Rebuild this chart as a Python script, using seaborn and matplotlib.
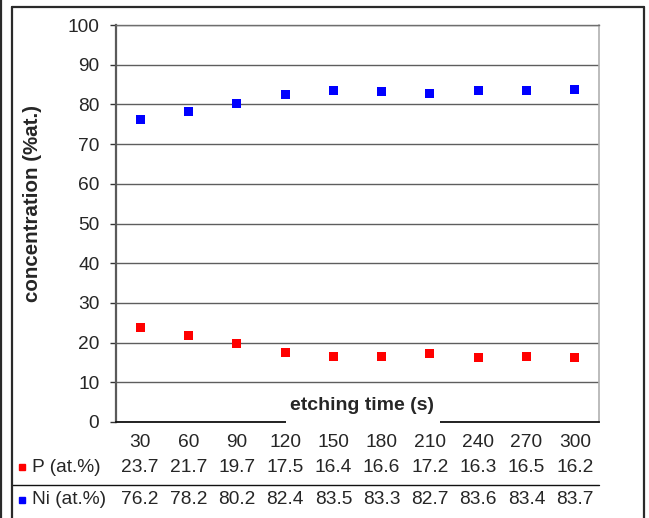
import matplotlib
matplotlib.use("Agg")
import matplotlib.pyplot as plt
from matplotlib.lines import Line2D
from matplotlib.patches import Rectangle
from matplotlib.transforms import blended_transform_factory
import pandas as pd
import seaborn as sns

# etching time categories and measured compositions
times = ["30", "60", "90", "120", "150", "180", "210", "240", "270", "300"]
p_at = [23.7, 21.7, 19.7, 17.5, 16.4, 16.6, 17.2, 16.3, 16.5, 16.2]
ni_at = [76.2, 78.2, 80.2, 82.4, 83.5, 83.3, 82.7, 83.6, 83.4, 83.7]
series_labels = ["P (at.%)", "Ni (at.%)"]
series_colors = ["#ff0000", "#0000ff"]

sns.set_style("white")
plt.rcParams["font.family"] = ["Liberation Sans", "DejaVu Sans"]

W, H = 649, 518
fig = plt.figure(figsize=(W / 100, H / 100), dpi=100)


def fx(x):
    return x / W


def fy(y):
    return 1 - y / H


# plot area in pixel terms
L, R, T, B = 116, 599, 25, 422
ax = fig.add_axes([fx(L), fy(B), fx(R) - fx(L), fy(T) - fy(B)])

df = pd.DataFrame({
    "time": times * 2,
    "value": p_at + ni_at,
    "element": [series_labels[0]] * len(times) + [series_labels[1]] * len(times),
})

sns.stripplot(data=df, x="time", y="value", hue="element", order=times,
              hue_order=series_labels, palette=series_colors, jitter=False,
              dodge=False, marker="s", size=6.5, linewidth=0, legend=False,
              ax=ax, zorder=3)

ax.set_xlim(-0.5, len(times) - 0.5)
ax.set_ylim(0, 100)
ax.set_yticks(range(0, 101, 10))
ax.yaxis.grid(True, color="#5e5e5e", linewidth=1.0)
ax.xaxis.grid(False)
ax.set_axisbelow(True)

ax.spines["left"].set_color("#5a5a5a")
ax.spines["left"].set_linewidth(1.6)
ax.spines["bottom"].set_color("#111111")
ax.spines["bottom"].set_linewidth(1.3)
ax.spines["top"].set_color("#6e6e6e")
ax.spines["top"].set_linewidth(1.0)
ax.spines["right"].set_color("#b0b0b0")
ax.spines["right"].set_linewidth(1.2)

ax.tick_params(axis="y", length=4.5, width=1.0, color="#333333", pad=7.5,
               labelsize=13.8, direction="out", left=True)
ax.tick_params(axis="x", length=0, pad=8.5, labelsize=13.8)
ax.set_xlabel("")
ax.set_ylabel("")

# axis titles
ax.add_patch(Rectangle((fx(286), fy(424)), fx(440) - fx(286), fy(393) - fy(424),
                       transform=fig.transFigure, facecolor="white",
                       edgecolor="none", zorder=4, clip_on=False))
fig.text(fx(362), fy(405), "etching time (s)", ha="center", va="center",
         fontsize=14, fontweight="bold", zorder=5)
fig.text(fx(33), fy(204), "concentration (%at.)", ha="center", va="center",
         rotation=90, fontsize=14.8, fontweight="bold")

# data table rows under the x axis
tr = blended_transform_factory(ax.transData, fig.transFigure)
for vals, lab, col, y in [(p_at, series_labels[0], series_colors[0], 467),
                          (ni_at, series_labels[1], series_colors[1], 500)]:
    for i, v in enumerate(vals):
        ax.text(i, fy(y), f"{v:.1f}", transform=tr, ha="center",
                va="center", fontsize=13.8, clip_on=False)
    fig.add_artist(Line2D([fx(22)], [fy(y)], marker="s", markersize=4.5,
                          color=col, linestyle="none",
                          transform=fig.transFigure))
    fig.text(fx(32), fy(y), lab, ha="left", va="center", fontsize=13.8)

fig.add_artist(Line2D([fx(12), fx(R)], [fy(485), fy(485)], color="#111111",
                      linewidth=1.0, transform=fig.transFigure))

# chart frame
frame = dict(color="#2a2a2a", linewidth=1.6, transform=fig.transFigure)
fig.add_artist(Line2D([fx(12), fx(644)], [fy(6.5), fy(6.5)], **frame))
fig.add_artist(Line2D([fx(12), fx(12)], [fy(6.5), 0], **frame))
fig.add_artist(Line2D([fx(644), fx(644)], [fy(6.5), 0], **frame))
fig.add_artist(Line2D([fx(1), fx(1)], [1, 0], **frame))

fig.savefig("out.png", dpi=100, facecolor="white")
